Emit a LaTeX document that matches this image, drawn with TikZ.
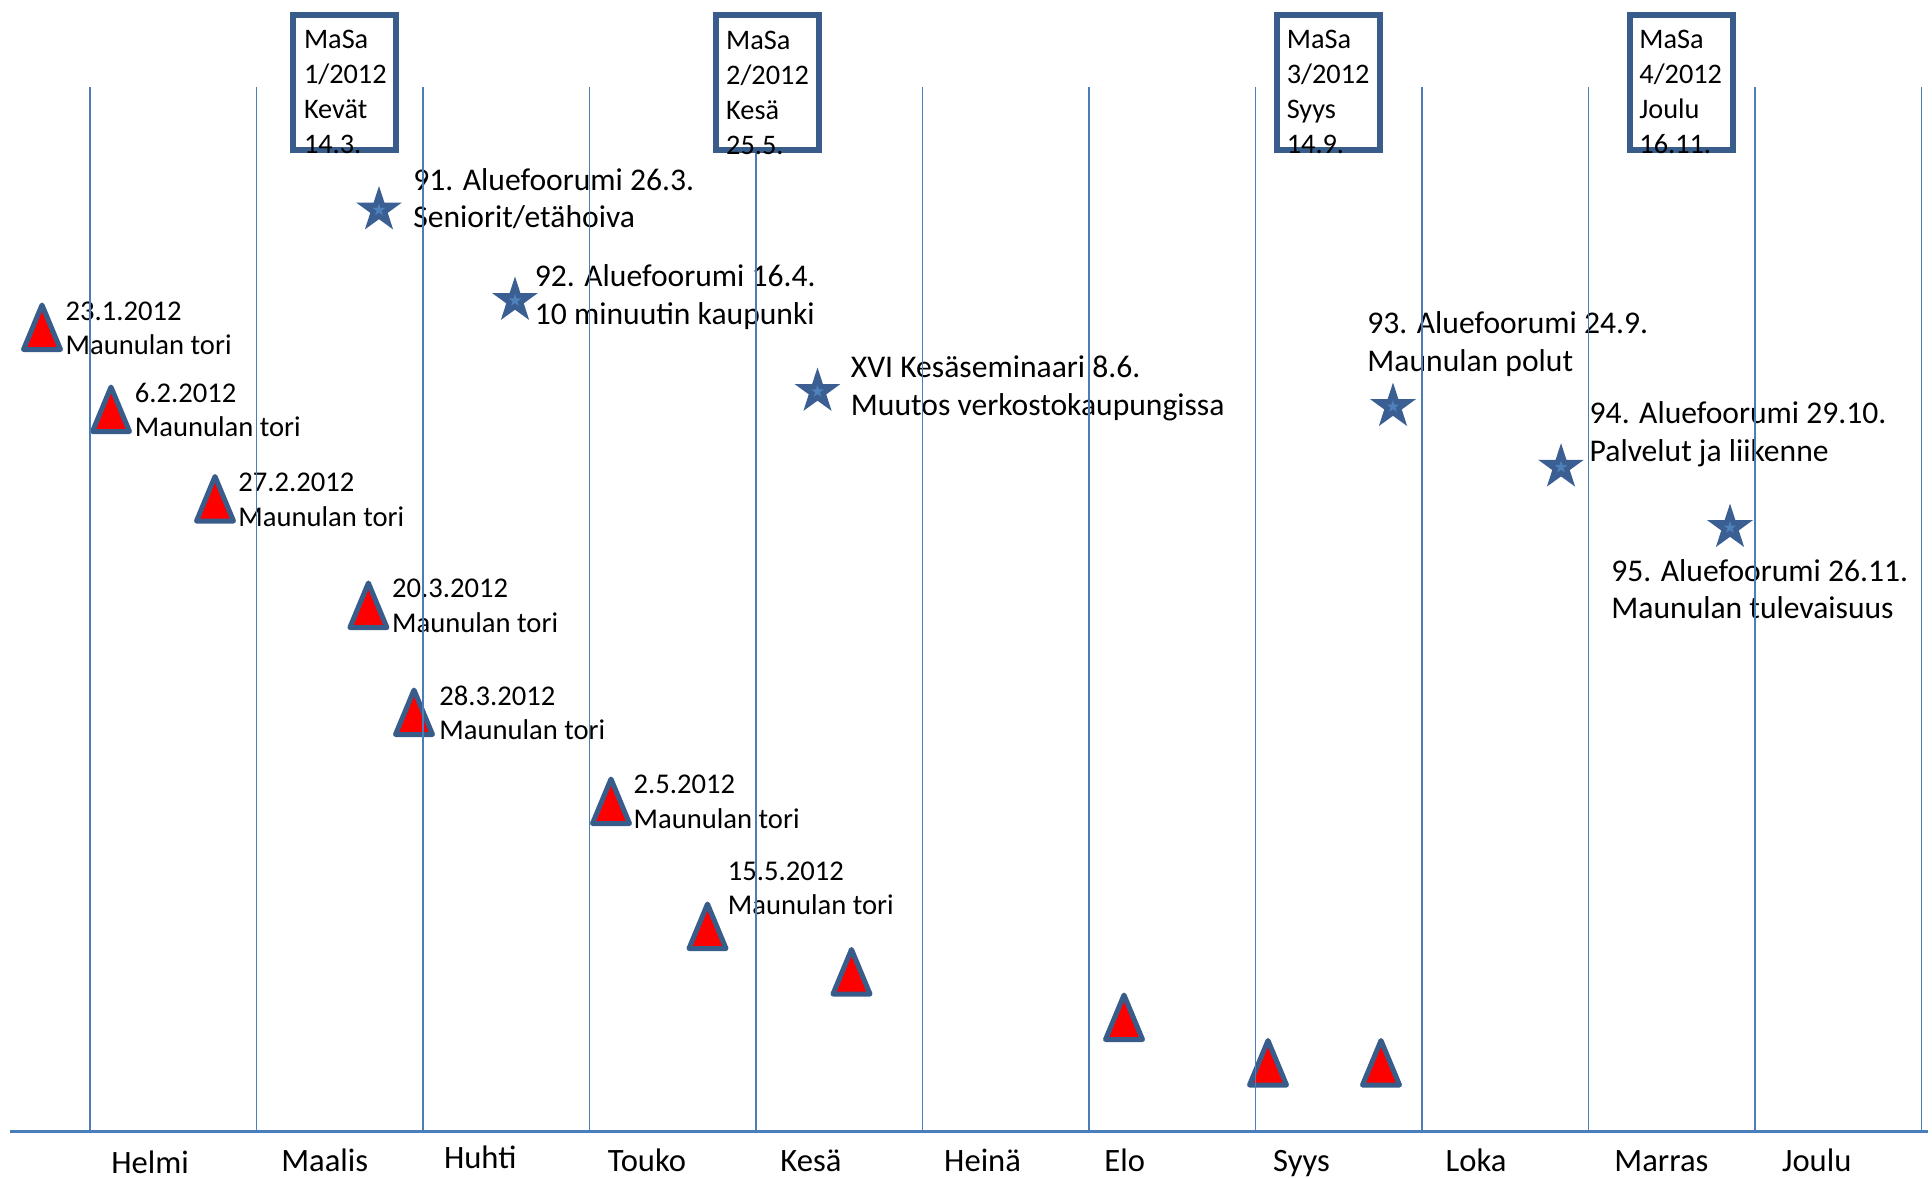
\documentclass[tikz,border=0pt]{standalone}
\usepackage{fontspec}
\setmainfont{Carlito}
\definecolor{lineblue}{HTML}{4A7EBB}
\definecolor{boxblue}{HTML}{385D8A}
\definecolor{starblue}{HTML}{3B5F92}
\definecolor{starlight}{HTML}{4F81BD}
\newcommand{\twol}[2]{\begin{tabular}[t]{@{}l@{}}#1\\#2\end{tabular}}
\newcommand{\fourl}[4]{\begin{tabular}[t]{@{}l@{}}#1\\#2\\#3\\#4\end{tabular}}
\tikzset{
  vline/.style={draw=lineblue, line width=0.7pt},
  axisline/.style={draw=lineblue, line width=1.5pt},
  masabox/.style={draw=boxblue, fill=white, line width=3pt, anchor=north west,
    minimum width=51.5pt, minimum height=67.35pt, inner sep=0},
  boxtext/.style={anchor=base west, inner sep=0, font=\fontsize{14.15pt}{17.5pt}\selectfont},
  trilabel/.style={anchor=base west, inner sep=0, font=\fontsize{14.3pt}{17.4pt}\selectfont},
  starlabel/.style={anchor=base west, inner sep=0, font=\fontsize{15.8pt}{18.85pt}\selectfont},
  monthlabel/.style={anchor=base west, inner sep=0, font=\fontsize{16.3pt}{19.6pt}\selectfont},
  tri/.pic={\draw[line width=2.5pt, draw=boxblue, fill=red, line join=round]
      (0,0) -- (18.5,44.5) -- (-18.5,44.5) -- cycle;},
  astar/.pic={
    \fill[starblue] (270:24) -- (306:9.2) -- (342:24) -- (18:9.2) -- (54:24) -- (90:9.2)
      -- (126:24) -- (162:9.2) -- (198:24) -- (234:9.2) -- cycle;
    \fill[starlight] (270:6.5) -- (306:2.5) -- (342:6.5) -- (18:2.5) -- (54:6.5) -- (90:2.5)
      -- (126:6.5) -- (162:2.5) -- (198:6.5) -- (234:2.5) -- cycle;}
}
\begin{document}
\begin{tikzpicture}[x=0.5pt,y=-0.5pt]
\useasboundingbox (0,0) rectangle (1932,1178);
% triangles
\pic (t1) at (42,305) {tri};
\pic (t2) at (111,387) {tri};
\pic (t3) at (215,476.5) {tri};
\pic (t4) at (368.4,583) {tri};
\pic (t5) at (414,690) {tri};
\pic (t6) at (611,779) {tri};
\pic (t7) at (707.5,904) {tri};
\pic (t8) at (851.5,949.5) {tri};
\pic (t9) at (1124,995) {tri};
\pic (t10) at (1268,1040.5) {tri};
\pic (t11) at (1381,1040.5) {tri};
% stars
\pic (s1) at (379,210) {astar};
\pic (s2) at (515,300.5) {astar};
\pic (s3) at (817.5,391.5) {astar};
\pic (s4) at (1393,406.6) {astar};
\pic (s5) at (1561,467.2) {astar};
\pic (s6) at (1730,527.6) {astar};
% triangle labels
\node[trilabel] (lt1) at (65.3,320) {\twol{23.1.2012}{Maunulan tori}};
\node[trilabel] (lt2) at (134.5,402) {\twol{6.2.2012}{Maunulan tori}};
\node[trilabel] (lt3) at (238,491.5) {\twol{27.2.2012}{Maunulan tori}};
\node[trilabel] (lt4) at (391.8,597.7) {\twol{20.3.2012}{Maunulan tori}};
\node[trilabel] (lt5) at (439,705) {\twol{28.3.2012}{Maunulan tori}};
\node[trilabel] (lt6) at (633.3,793.5) {\twol{2.5.2012}{Maunulan tori}};
\node[trilabel] (lt7) at (727.5,880) {\twol{15.5.2012}{Maunulan tori}};
% star labels
\node[starlabel] (ls1) at (413,190) {\twol{91. Aluefoorumi 26.3.}{Seniorit/etähoiva}};
\node[starlabel] (ls2) at (534.5,286.7) {\twol{92. Aluefoorumi 16.4.}{10 minuutin kaupunki}};
\node[starlabel] (ls3) at (850.5,377.3) {\twol{XVI Kesäseminaari 8.6.}{Muutos verkostokaupungissa}};
\node[starlabel] (ls4) at (1367,333.3) {\twol{93. Aluefoorumi 24.9.}{Maunulan polut}};
\node[starlabel] (ls5) at (1589.3,423.3) {\twol{94. Aluefoorumi 29.10.}{Palvelut ja liikenne}};
\node[starlabel] (ls6) at (1611,581) {\twol{95. Aluefoorumi 26.11.}{Maunulan tulevaisuus}};
% vertical month lines
\foreach \i in {0,...,11} {
  \draw[vline] ({90+166.5*\i},87) -- ({90+166.5*\i},1131);
}
% MaSa boxes
\node[masabox] (m1) at (290,12.3) {};
\node[masabox] (m2) at (712.5,12.3) {};
\node[masabox] (m3) at (1273.5,12.3) {};
\node[masabox] (m4) at (1626.5,12.3) {};
\node[boxtext] (mt1) at (303.6,48.8) {\fourl{MaSa}{1/2012}{Kevät}{14.3.}};
\node[boxtext] (mt2) at (725.8,49.5) {\fourl{MaSa}{2/2012}{Kesä}{25.5.}};
\node[boxtext] (mt3) at (1286.4,48.8) {\fourl{MaSa}{3/2012}{Syys}{14.9.}};
\node[boxtext] (mt4) at (1639,48.8) {\fourl{MaSa}{4/2012}{Joulu}{16.11.}};
% axis
\coordinate (ax0) at (10,1131);
\coordinate (ax1) at (1928,1131);
\draw[axisline] (ax0) -- (ax1);
% months
\node[monthlabel] (mo1) at (110.9,1173) {Helmi};
\node[monthlabel] (mo2) at (280.9,1171) {Maalis};
\node[monthlabel] (mo3) at (443.6,1168) {Huhti};
\node[monthlabel] (mo4) at (607.4,1171) {Touko};
\node[monthlabel] (mo5) at (780,1171) {Kesä};
\node[monthlabel] (mo6) at (943.8,1171) {Heinä};
\node[monthlabel] (mo7) at (1104,1171) {Elo};
\node[monthlabel] (mo8) at (1272.8,1171) {Syys};
\node[monthlabel] (mo9) at (1445.3,1171) {Loka};
\node[monthlabel] (mo10) at (1614,1171) {Marras};
\node[monthlabel] (mo11) at (1781.7,1171) {Joulu};
\end{tikzpicture}
\end{document}
